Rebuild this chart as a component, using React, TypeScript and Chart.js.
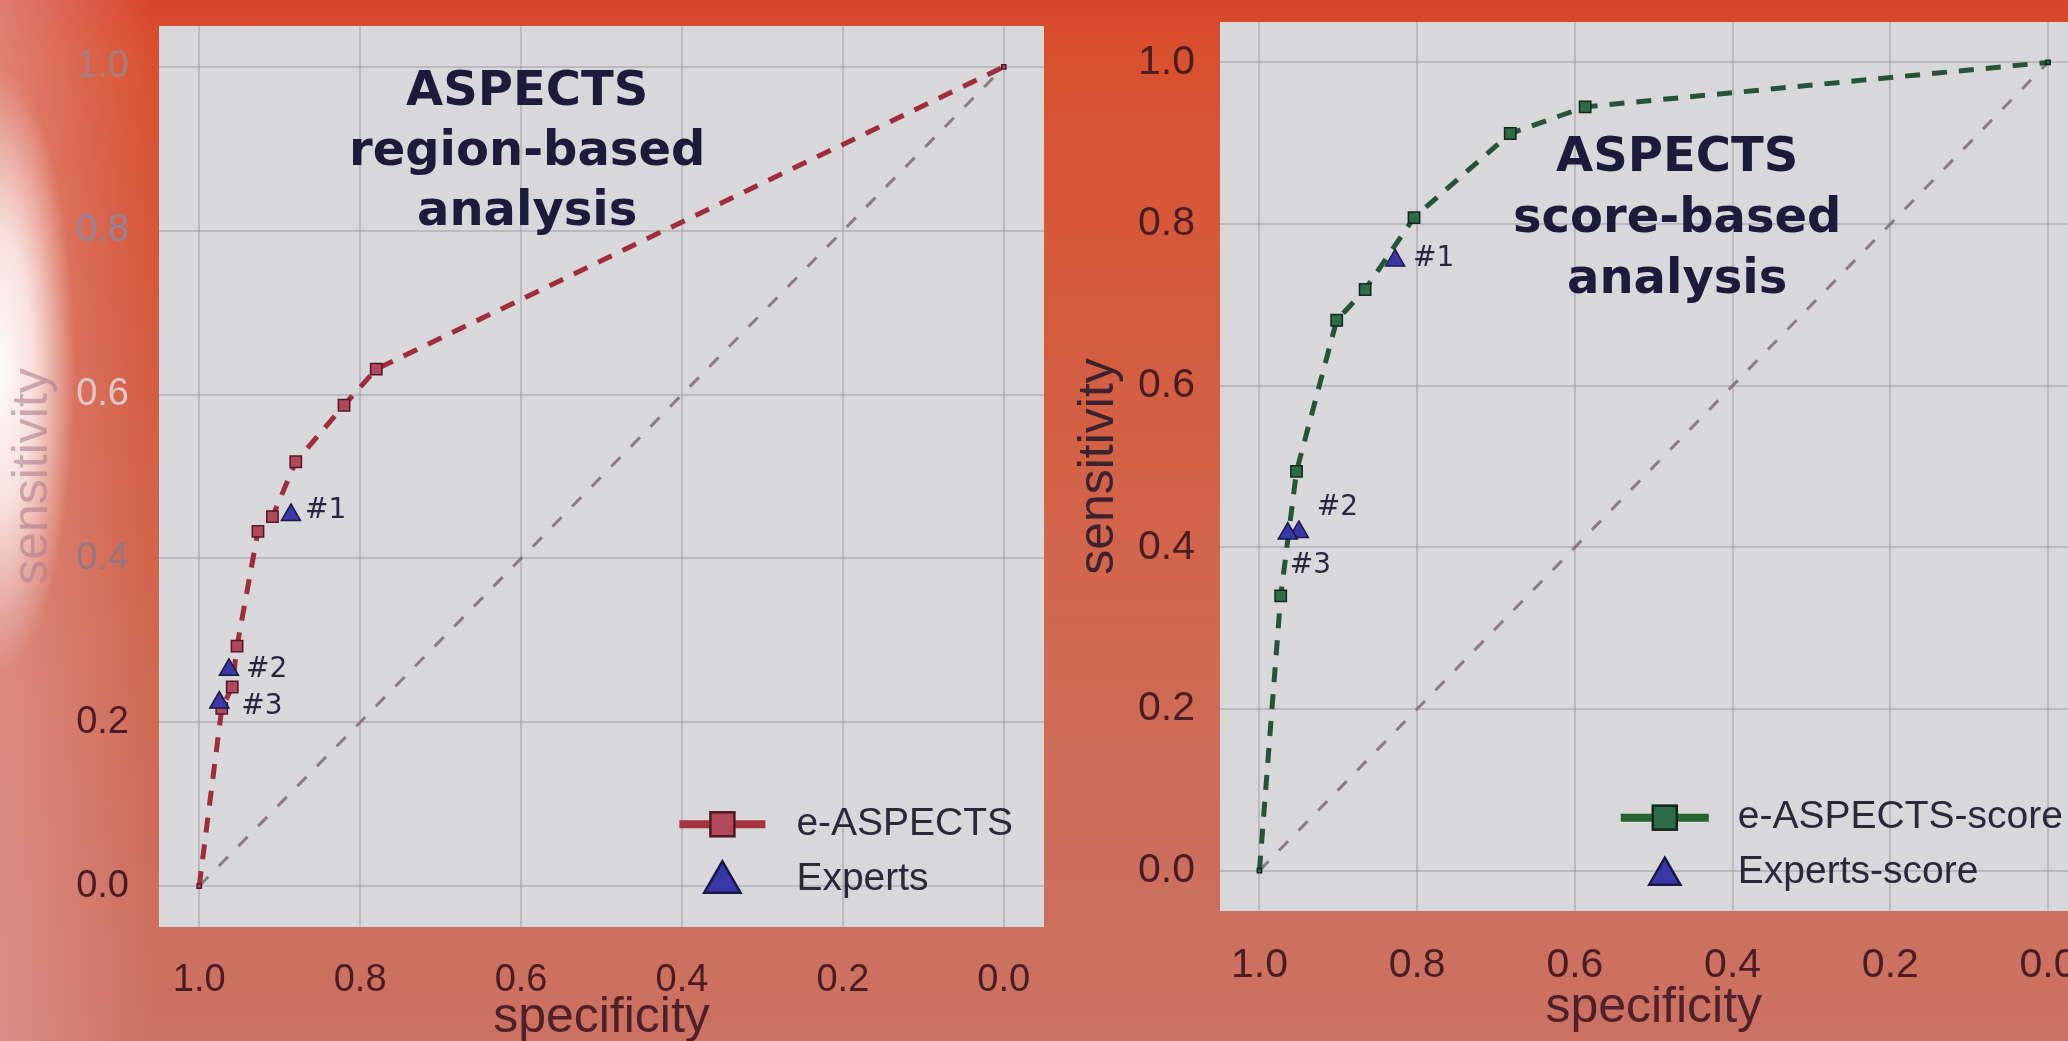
import React, { useEffect, useRef } from "react";
import { Chart, registerables } from "chart.js";

Chart.register(...registerables);

// ---------------- data ----------------
const TICKS = [0.0, 0.2, 0.4, 0.6, 0.8, 1.0];
const X_TITLE = "specificity";
const Y_TITLE = "sensitivity";

// chance diagonal
const CHANCE_SPEC = [1.0, 0.0];
const CHANCE_SENS = [0.0, 1.0];

// Left panel: region-based analysis
const REGION_TITLE = ["ASPECTS", "region-based", "analysis"];
const REGION_LABEL = "e-ASPECTS";
const REGION_SPEC = [1.0, 0.972, 0.959, 0.953, 0.927, 0.909, 0.88, 0.82, 0.78, 0.0];
const REGION_SENS = [0.0, 0.217, 0.243, 0.293, 0.433, 0.451, 0.518, 0.587, 0.631, 1.0];
const REGION_EXPERTS_LABEL = "Experts";
const REGION_EXPERT_NAMES = ["#1", "#2", "#3"];
const REGION_EXPERT_SPEC = [0.886, 0.963, 0.975];
const REGION_EXPERT_SENS = [0.453, 0.264, 0.224];

// Right panel: score-based analysis
const SCORE_TITLE = ["ASPECTS", "score-based", "analysis"];
const SCORE_LABEL = "e-ASPECTS-score";
const SCORE_SPEC = [1.0, 0.973, 0.953, 0.902, 0.866, 0.804, 0.682, 0.587, 0.0];
const SCORE_SENS = [0.0, 0.34, 0.494, 0.681, 0.719, 0.808, 0.912, 0.945, 1.0];
const SCORE_EXPERTS_LABEL = "Experts-score";
const SCORE_EXPERT_NAMES = ["#1", "#2", "#3"];
const SCORE_EXPERT_SPEC = [0.828, 0.95, 0.964];
const SCORE_EXPERT_SENS = [0.755, 0.419, 0.417];

// ---------------- styles ----------------
const SANS = "'Liberation Sans', Arial, sans-serif";
const DEJAVU = "'DejaVu Sans', sans-serif";
const PLOT_BG = "rgb(216,215,218)";
const GRID = "rgba(150,148,158,0.45)";
const TICK_DARK = "#4a1c24";
const TRI_FILL = "rgb(58,56,168)";
const TRI_BORDER = "rgb(25,24,70)";
const TITLE_COLOR = "#1d1b3b";

type Cfg = {
  left: number;
  width: number;
  height: number;
  padTop: number;
  padRight: number;
  yAxisWidth: number;
  xAxisHeight: number;
  tickSize: number;
  yTickPad: number;
  xTickPad: number;
  xTitlePadBottom: number;
  yTitlePadTop: number;
  yTitleColor: string;
  yTickColor: (v: number) => string;
  rocLabel: string;
  rocSpec: number[];
  rocSens: number[];
  expLabel: string;
  expNames: string[];
  expSpec: number[];
  expSens: number[];
  lineColor: string;
  sqFill: string;
  sqBorder: string;
  legendLine: string;
  title: string[];
  titleFx: number;
  titleFy: number;
  titleLineH: number;
  labelOffsets: [number, number][];
  legend: { fx: number; fy: number; rowH: number; lineLen: number; textDx: number; sq: number; tri: number; font: number };
};

const leftFaded: Record<string, string> = {
  "1.0": "rgb(170,125,130)",
  "0.8": "rgb(150,132,155)",
  "0.6": "rgb(222,200,205)",
  "0.4": "rgb(150,118,130)",
};

const LEFT: Cfg = {
  left: 0,
  width: 1060,
  height: 1080,
  padTop: 26,
  padRight: 16,
  yAxisWidth: 159,
  xAxisHeight: 153,
  tickSize: 38,
  yTickPad: 30,
  xTickPad: 31,
  xTitlePadBottom: 32,
  yTitlePadTop: 3,
  yTitleColor: "rgba(175,125,140,0.6)",
  yTickColor: (v) => leftFaded[v.toFixed(1)] || TICK_DARK,
  rocLabel: REGION_LABEL,
  rocSpec: REGION_SPEC,
  rocSens: REGION_SENS,
  expLabel: REGION_EXPERTS_LABEL,
  expNames: REGION_EXPERT_NAMES,
  expSpec: REGION_EXPERT_SPEC,
  expSens: REGION_EXPERT_SENS,
  lineColor: "rgb(160,45,60)",
  sqFill: "rgb(178,72,92)",
  sqBorder: "rgb(80,24,40)",
  legendLine: "rgb(165,52,62)",
  title: REGION_TITLE,
  titleFx: 0.416,
  titleFy: 0.088,
  titleLineH: 60,
  labelOffsets: [
    [14, -4],
    [17, 0],
    [22, 4],
  ],
  legend: { fx: 0.588, fy: 0.886, rowH: 55, lineLen: 86, textDx: 117, sq: 12, tri: 21, font: 39 },
};

const RIGHT: Cfg = {
  left: 1060,
  width: 1040,
  height: 1080,
  padTop: 22,
  padRight: 7,
  yAxisWidth: 160,
  xAxisHeight: 169,
  tickSize: 41,
  yTickPad: 25,
  xTickPad: 30,
  xTitlePadBottom: 42,
  yTitlePadTop: 9,
  yTitleColor: "#3a2230",
  yTickColor: () => TICK_DARK,
  rocLabel: SCORE_LABEL,
  rocSpec: SCORE_SPEC,
  rocSens: SCORE_SENS,
  expLabel: SCORE_EXPERTS_LABEL,
  expNames: SCORE_EXPERT_NAMES,
  expSpec: SCORE_EXPERT_SPEC,
  expSens: SCORE_EXPERT_SENS,
  lineColor: "rgb(38,84,56)",
  sqFill: "rgb(44,108,70)",
  sqBorder: "rgb(18,38,28)",
  legendLine: "rgb(40,100,50)",
  title: SCORE_TITLE,
  titleFx: 0.527,
  titleFy: 0.168,
  titleLineH: 61,
  labelOffsets: [
    [18, -2],
    [18, -24],
    [2, 32],
  ],
  legend: { fx: 0.462, fy: 0.895, rowH: 55, lineLen: 88, textDx: 117, sq: 12, tri: 18, font: 39 },
};

function triPath(ctx: CanvasRenderingContext2D, x: number, y: number, r: number) {
  ctx.beginPath();
  ctx.moveTo(x, y - r);
  ctx.lineTo(x + 0.866 * r, y + 0.5 * r);
  ctx.lineTo(x - 0.866 * r, y + 0.5 * r);
  ctx.closePath();
}

function makeChart(canvas: HTMLCanvasElement, cfg: Cfg) {
  const n = cfg.rocSpec.length;
  const bgPlugin = {
    id: "plotbg",
    beforeDraw(chart: any) {
      const { ctx, chartArea: a } = chart;
      ctx.save();
      ctx.fillStyle = PLOT_BG;
      ctx.fillRect(a.left, a.top, a.right - a.left, a.bottom - a.top);
      ctx.restore();
    },
  };
  const overlayPlugin = {
    id: "overlay",
    afterDatasetsDraw(chart: any) {
      const { ctx, chartArea: a } = chart;
      const w = a.right - a.left;
      const h = a.bottom - a.top;
      ctx.save();
      // in-plot title
      ctx.fillStyle = TITLE_COLOR;
      ctx.font = `bold 48px ${DEJAVU}`;
      ctx.textAlign = "center";
      ctx.textBaseline = "alphabetic";
      const tx = a.left + cfg.titleFx * w;
      const ty = a.top + cfg.titleFy * h;
      cfg.title.forEach((line, i) => ctx.fillText(line, tx, ty + i * cfg.titleLineH));
      // expert labels
      const meta = chart.getDatasetMeta(0);
      ctx.font = `28px ${DEJAVU}`;
      ctx.fillStyle = "#2a2640";
      ctx.textAlign = "left";
      ctx.textBaseline = "middle";
      meta.data.forEach((pt: any, i: number) => {
        const [dx, dy] = cfg.labelOffsets[i] || [14, 0];
        ctx.fillText(cfg.expNames[i], pt.x + dx, pt.y + dy);
      });
      // legend
      const L = cfg.legend;
      const lx = a.left + L.fx * w;
      const ly = a.top + L.fy * h;
      const cx = lx + L.lineLen / 2;
      ctx.strokeStyle = cfg.legendLine;
      ctx.lineWidth = 8;
      ctx.beginPath();
      ctx.moveTo(lx, ly);
      ctx.lineTo(lx + L.lineLen, ly);
      ctx.stroke();
      ctx.fillStyle = cfg.sqFill;
      ctx.strokeStyle = cfg.sqBorder;
      ctx.lineWidth = 2.5;
      ctx.fillRect(cx - L.sq, ly - L.sq, 2 * L.sq, 2 * L.sq);
      ctx.strokeRect(cx - L.sq, ly - L.sq, 2 * L.sq, 2 * L.sq);
      const y2 = ly + L.rowH;
      ctx.fillStyle = TRI_FILL;
      ctx.strokeStyle = TRI_BORDER;
      triPath(ctx, cx, y2 + 3, L.tri);
      ctx.fill();
      ctx.stroke();
      ctx.fillStyle = "#2b2838";
      ctx.font = `${L.font}px ${SANS}`;
      ctx.textAlign = "left";
      ctx.textBaseline = "middle";
      ctx.fillText(cfg.rocLabel, lx + L.textDx, ly);
      ctx.fillText(cfg.expLabel, lx + L.textDx, y2);
      ctx.restore();
    },
  };

  const tickFont = { family: SANS, size: cfg.tickSize };
  const titleFont = { family: SANS, size: 50, lineHeight: 1.2 };

  return new Chart(canvas, {
    type: "scatter",
    data: {
      datasets: [
        {
          label: cfg.expLabel,
          data: cfg.expSpec.map((x, i) => ({ x, y: cfg.expSens[i] })),
          showLine: false,
          pointStyle: "triangle",
          pointRadius: 11,
          pointBackgroundColor: TRI_FILL,
          pointBorderColor: TRI_BORDER,
          pointBorderWidth: 1.5,
        },
        {
          label: cfg.rocLabel,
          data: cfg.rocSpec.map((x, i) => ({ x, y: cfg.rocSens[i] })),
          showLine: true,
          borderColor: cfg.lineColor,
          borderWidth: 5,
          borderDash: [15, 12],
          pointStyle: "rect",
          pointRadius: (c: any) => (c.dataIndex === 0 || c.dataIndex === n - 1 ? 3 : 8),
          pointBackgroundColor: cfg.sqFill,
          pointBorderColor: cfg.sqBorder,
          pointBorderWidth: 1.5,
        },
        {
          label: "chance",
          data: CHANCE_SPEC.map((x, i) => ({ x, y: CHANCE_SENS[i] })),
          showLine: true,
          borderColor: "rgba(125,108,115,0.85)",
          borderWidth: 3,
          borderDash: [13, 15],
          pointRadius: 0,
        },
      ],
    },
    options: {
      animation: false,
      responsive: false,
      devicePixelRatio: 1,
      events: [],
      layout: { padding: { top: cfg.padTop, right: cfg.padRight, left: 0, bottom: 0 } },
      plugins: { legend: { display: false }, tooltip: { enabled: false }, title: { display: false } },
      scales: {
        x: {
          type: "linear",
          reverse: true,
          min: -0.05,
          max: 1.05,
          afterBuildTicks: (s: any) => {
            s.ticks = TICKS.map((v) => ({ value: v }));
          },
          afterFit: (s: any) => {
            s.height = cfg.xAxisHeight;
            s.paddingLeft = 0;
            s.paddingRight = 0;
          },
          grid: { color: GRID, lineWidth: 2, drawTicks: false },
          border: { display: false },
          ticks: {
            font: tickFont,
            color: TICK_DARK,
            padding: cfg.xTickPad,
            maxRotation: 0,
            autoSkip: false,
            callback: (v: any) => Number(v).toFixed(1),
          },
          title: {
            display: true,
            text: X_TITLE,
            font: titleFont,
            color: "#4e2029",
            padding: { top: 0, bottom: cfg.xTitlePadBottom },
          },
        },
        y: {
          type: "linear",
          min: -0.05,
          max: 1.05,
          afterBuildTicks: (s: any) => {
            s.ticks = TICKS.map((v) => ({ value: v }));
          },
          afterFit: (s: any) => {
            s.width = cfg.yAxisWidth;
            s.paddingTop = 0;
            s.paddingBottom = 0;
          },
          grid: { color: GRID, lineWidth: 2, drawTicks: false },
          border: { display: false },
          ticks: {
            font: tickFont,
            color: (c: any) => cfg.yTickColor(c.tick ? c.tick.value : 0),
            padding: cfg.yTickPad,
            autoSkip: false,
            callback: (v: any) => Number(v).toFixed(1),
          },
          title: {
            display: true,
            text: Y_TITLE,
            font: titleFont,
            color: cfg.yTitleColor,
            padding: { top: cfg.yTitlePadTop, bottom: 0 },
          },
        },
      },
    } as any,
    plugins: [bgPlugin, overlayPlugin],
  });
}

function Panel({ cfg }: { cfg: Cfg }) {
  const ref = useRef<HTMLCanvasElement>(null);
  useEffect(() => {
    const chart = makeChart(ref.current as HTMLCanvasElement, cfg);
    return () => chart.destroy();
  }, [cfg]);
  return (
    <canvas
      ref={ref}
      width={cfg.width}
      height={cfg.height}
      style={{ position: "absolute", left: cfg.left, top: 0, width: cfg.width, height: cfg.height }}
    />
  );
}

export default function App() {
  return (
    <div
      style={{
        position: "fixed",
        left: 0,
        top: 0,
        width: 2068,
        height: 1041,
        overflow: "hidden",
        background: [
          "radial-gradient(ellipse 75px 300px at 0px 370px, rgba(255,255,255,0.97) 0%, rgba(255,248,248,0.8) 45%, rgba(255,235,235,0) 100%)",
          "linear-gradient(to right, rgba(228,160,160,0.6) 0px, rgba(228,160,160,0) 150px)",
          "linear-gradient(to bottom, #d8462a 0px, #d9512f 60px, #d55b3e 300px, #d0684f 620px, #cd6f5e 880px, #cc7262 1041px)",
        ].join(", "),
      }}
    >
      <Panel cfg={LEFT} />
      <Panel cfg={RIGHT} />
    </div>
  );
}
